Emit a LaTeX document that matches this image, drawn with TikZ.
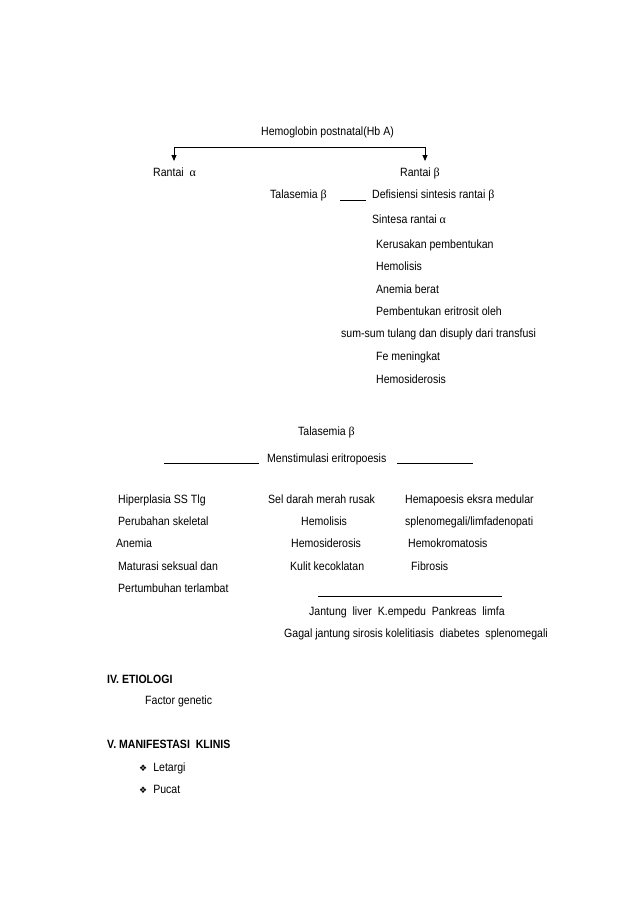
\documentclass[tikz,border=0pt]{standalone}
\usepackage{fontspec}
\setmainfont{Liberation Sans}[FakeStretch=0.88]
\newfontfamily\symfont{DejaVu Sans}
\newfontfamily\grk{Liberation Serif}
\newcommand{\al}{{\grk α}}
\newcommand{\be}{{\grk β}}
\usetikzlibrary{arrows.meta}
\tikzset{
  txt/.style={inner sep=0pt, anchor=base west, font=\fontsize{12}{14}\selectfont},
  hdr/.style={txt, font=\fontsize{12}{14}\selectfont\bfseries},
  ln/.style={line width=0.8pt},
  arr/.style={line width=0.8pt, -{Triangle[length=6pt,width=5pt]}}
}
\begin{document}
\begin{tikzpicture}[x=1pt,y=-1pt]
\useasboundingbox (0,0) rectangle (638,903);
\fill[white] (0,0) rectangle (638,903);
% top part
\node[txt] (hb) at (261,135) {Hemoglobin postnatal(Hb A)};
\coordinate (ca) at (174,147);
\coordinate (cb) at (425,147);
\node[txt] (ra) at (153,176) {Rantai \ \al};
\node[txt] (rb) at (400,176) {Rantai \be};
\draw[ln] (ca) -- (cb);
\draw[arr] (ca) -- (174,161);
\draw[arr] (cb) -- (425,161);
\node[txt] (t1) at (270,198) {Talasemia \be};
\node[txt] (d1) at (372,198) {Defisiensi sintesis rantai \be};
\coordinate (u1) at (340,200);
\coordinate (u2) at (366,200);
\draw[ln] (u1) -- (u2);
\node[txt] (s1) at (372,223) {Sintesa rantai \al};
\node[txt] (k1) at (376,248) {Kerusakan pembentukan};
\node[txt] (h1) at (376,270) {Hemolisis};
\node[txt] (a1) at (376,293) {Anemia berat};
\node[txt] (p1) at (376,315) {Pembentukan eritrosit oleh};
\node[txt] (ss) at (341,337) {sum-sum tulang dan disuply dari transfusi};
\node[txt] (fe) at (376,360) {Fe meningkat};
\node[txt] (hs) at (376,383) {Hemosiderosis};
% second part
\node[txt] (t2) at (298,435) {Talasemia \be};
\node[txt] (me) at (267,462) {Menstimulasi eritropoesis};
\coordinate (m1) at (164,463);
\coordinate (m2) at (259,463);
\coordinate (m3) at (397,463);
\coordinate (m4) at (473,463);
\draw[ln] (m1) -- (m2);
\draw[ln] (m3) -- (m4);
\node[txt] (l1) at (118,503) {Hiperplasia SS Tlg};
\node[txt] (l2) at (118,525) {Perubahan skeletal};
\node[txt] (l3) at (116,547) {Anemia};
\node[txt] (l4) at (118,570) {Maturasi seksual dan};
\node[txt] (l5) at (118,592) {Pertumbuhan terlambat};
\node[txt] (c1) at (268,503) {Sel darah merah rusak};
\node[txt] (c2) at (301,525) {Hemolisis};
\node[txt] (c3) at (291,547) {Hemosiderosis};
\node[txt] (c4) at (290,570) {Kulit kecoklatan};
\node[txt] (r1) at (405,503) {Hemapoesis eksra medular};
\node[txt] (r2) at (405,525) {splenomegali/limfadenopati};
\node[txt] (r3) at (408,547) {Hemokromatosis};
\node[txt] (r4) at (411,570) {Fibrosis};
\coordinate (n1) at (318,596);
\coordinate (n2) at (502,596);
\draw[ln] (n1) -- (n2);
\node[txt] (o1) at (309,615) {Jantung \ liver \ K.empedu \ Pankreas \ limfa};
\node[txt] (o2) at (284,637) {Gagal jantung sirosis kolelitiasis \ diabetes \ splenomegali};
% sections
\node[hdr] (e1) at (107,683) {IV. ETIOLOGI};
\node[txt] (e2) at (145,704) {Factor genetic};
\node[hdr] (v1) at (107,748) {V. MANIFESTASI \ KLINIS};
\node[txt] (b1) at (139,771) {{\symfont\fontsize{9}{11}\selectfont ❖}\hspace{6pt}Letargi};
\node[txt] (b2) at (139,793) {{\symfont\fontsize{9}{11}\selectfont ❖}\hspace{6pt}Pucat};
\end{tikzpicture}
\end{document}
